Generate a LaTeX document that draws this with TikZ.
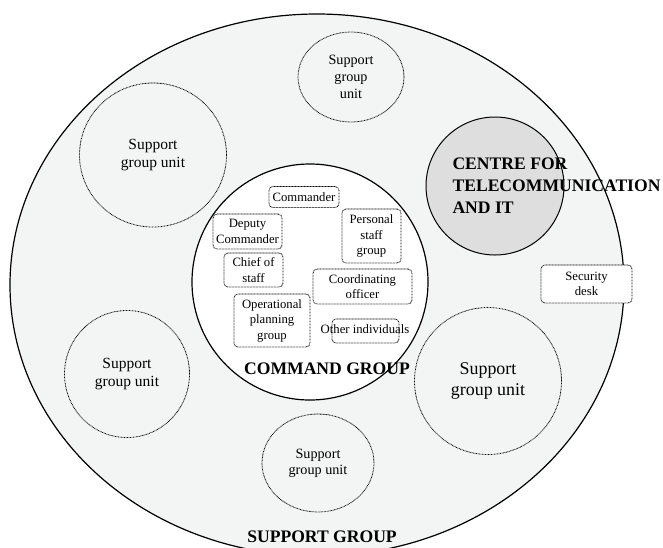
\documentclass[tikz,border=0pt]{standalone}
\usepackage{fontspec}
\setmainfont{Liberation Serif}
\usetikzlibrary{shapes.geometric}

\definecolor{groundgray}{HTML}{F3F4F4}
\definecolor{centregray}{HTML}{DEDEDE}

\tikzset{
  unit/.style={draw, ellipse, inner sep=0pt, line width=0.8pt,
    dash pattern=on 0.8pt off 0.7pt, align=center},
  post/.style={draw, rounded corners=4pt, fill=white, inner sep=0pt,
    line width=0.8pt, dash pattern=on 0.8pt off 0.7pt, align=center,
    font=\fontsize{12.7}{15.5}\selectfont},
  title/.style={font=\bfseries\fontsize{17.6}{22}\selectfont, align=left}
}

\begin{document}
\begin{tikzpicture}[x=1pt, y=-1pt]
    \useasboundingbox (0,0) rectangle (663,547);
    \clip (0,0) rectangle (663,547);
    % support group
    \node[draw, ellipse, line width=1.2pt, fill=groundgray, inner sep=0pt,
      minimum width=614, minimum height=542] (sg) at (317,285) {};
    \node[title] (sglabel) at (322,537) {SUPPORT GROUP};
    % support group units
    \node[unit, minimum width=106, minimum height=90,
      font=\fontsize{14.2}{17}\selectfont] (unitN) at (351,77) {Support\\group\\unit};
    \node[unit, minimum width=147, minimum height=144,
      font=\fontsize{15.5}{18}\selectfont] (unitNW) at (153,155) {Support\\group unit};
    \node[unit, minimum width=125, minimum height=127,
      font=\fontsize{15.5}{18}\selectfont] (unitSW) at (127,374) {Support\\group unit};
    \node[unit, minimum width=112, minimum height=98,
      font=\fontsize{14.2}{16}\selectfont] (unitS) at (318,463) {Support\\group unit};
    \node[unit, minimum width=147, minimum height=147,
      font=\fontsize{17.9}{21}\selectfont] (unitSE) at (488,381) {Support\\group unit};
    % centre for telecommunication
    \node[draw, circle, line width=1pt, fill=centregray, inner sep=0pt,
      minimum size=138] (centre) at (495,186) {};
    \node[title, anchor=west] (centrelabel) at (449,186)
      {CENTRE FOR\\TELECOMMUNICATION\\AND IT};
    % security desk
    \node[post, minimum width=91, minimum height=38] (desk) at (586.5,284) {Security\\desk};
    % command group
    \node[draw, circle, line width=1.2pt, fill=white, inner sep=0pt,
      minimum size=236] (cmd) at (310,282) {};
    \node[title] (cmdlabel) at (327,369) {COMMAND GROUP};
    \node[post, minimum width=70, minimum height=21] (commander) at (304,197) {Commander};
    \node[post, minimum width=69, minimum height=35] (deputy) at (247.5,231.5) {Deputy\\Commander};
    \node[post, minimum width=59, minimum height=34] (chief) at (253.5,270) {Chief of\\staff};
    \node[post, minimum width=59, minimum height=54] (personal) at (371.5,236) {Personal\\staff\\group};
    \node[post, minimum width=99, minimum height=35] (coord) at (362.5,286.5) {Coordinating\\officer};
    \node[post, minimum width=76, minimum height=53] (oplan) at (272,320.5) {Operational\\planning\\group};
    \node[post, fill=none, minimum width=67, minimum height=24] (other) at (365.5,331) {};
    \node[font=\fontsize{12.7}{15.5}\selectfont, inner sep=0pt] (othertext) at (365,329.5) {Other individuals};
\end{tikzpicture}
\end{document}
